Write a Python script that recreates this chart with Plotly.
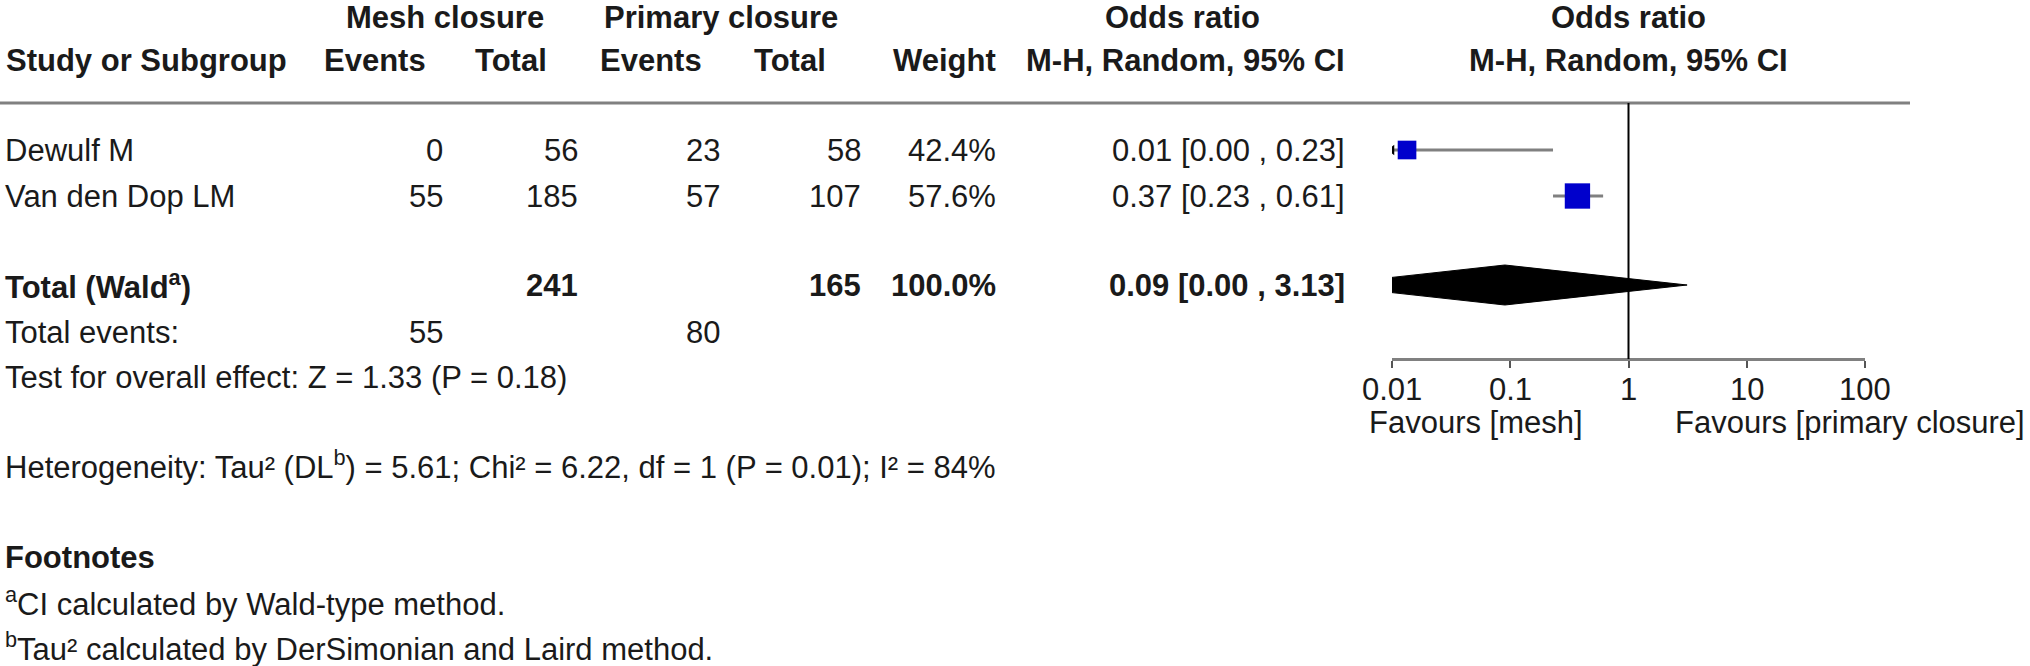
import math
import plotly.graph_objects as go

# ---------------- data ----------------
studies = ["Dewulf M", "Van den Dop LM"]
mesh_events = [0, 55]
mesh_total = [56, 185]
prim_events = [23, 57]
prim_total = [58, 107]
weights = [42.4, 57.6]
or_est = [0.0134, 0.37]
ci_low = [0.0008, 0.23]
ci_high = [0.23, 0.61]

total_or = 0.09
total_low = 0.0026
total_high = 3.13
total_weight = 100.0

tick_vals = [0.01, 0.1, 1, 10, 100]
tick_text = ["0.01", "0.1", "1", "10", "100"]

# ---------------- layout constants ----------------
W, H = 2030, 666
FONT = "Liberation Sans, Arial, Helvetica, sans-serif"
FS = 31
TXT = "#1a1a1a"
AX_LEFT, AX_RIGHT = 1392, 1865
AXIS_Y = 359
LINE_Y = 103
row_y = [150, 196]
total_y = 285
totev_y = 332
test_y = 377
CI_RIGHT = 1346
XMIN, XMAX = tick_vals[0], tick_vals[-1]

fig = go.Figure()
annotations = []


def txt(x, y, s, anchor="left", bold=False, size=FS, color=TXT, xref="paper"):
    if bold:
        s = "<b>" + s + "</b>"
    annotations.append(dict(
        x=(x / W) if xref == "paper" else x, y=y, xref=xref, yref="y", text=s,
        showarrow=False, xanchor=anchor, yanchor="middle",
        font=dict(family=FONT, size=size, color=color), borderpad=0))


# headers
txt(445, 17, "Mesh closure", "center", True)
txt(721, 17, "Primary closure", "center", True)
txt(1182, 17, "Odds ratio", "center", True)
txt(1628, 17, "Odds ratio", "center", True)
txt(5, 60, "Study or Subgroup", "left", True)
txt(427, 60, "Events", "right", True)
txt(548, 60, "Total", "right", True)
txt(703, 60, "Events", "right", True)
txt(827, 60, "Total", "right", True)
txt(997, 60, "Weight", "right", True)
txt(CI_RIGHT, 60, "M-H, Random, 95% CI", "right", True)
txt(1628, 60, "M-H, Random, 95% CI", "center", True)

# study rows
for i, name in enumerate(studies):
    y = row_y[i]
    txt(4, y, name)
    txt(444, y, str(mesh_events[i]), "right")
    txt(579, y, str(mesh_total[i]), "right")
    txt(721, y, str(prim_events[i]), "right")
    txt(862, y, str(prim_total[i]), "right")
    txt(997, y, f"{weights[i]:.1f}%", "right")
    txt(CI_RIGHT, y, f"{or_est[i]:.2f} [{ci_low[i]:.2f} , {ci_high[i]:.2f}]", "right")

# total rows
txt(4, total_y, "Total (Wald<sup>a</sup>)", "left", True)
txt(579, total_y, str(sum(mesh_total)), "right", True)
txt(862, total_y, str(sum(prim_total)), "right", True)
txt(997, total_y, f"{total_weight:.1f}%", "right", True)
txt(CI_RIGHT, total_y, f"{total_or:.2f} [{total_low:.2f} , {total_high:.2f}]", "right", True)
txt(4, totev_y, "Total events:")
txt(444, totev_y, str(sum(mesh_events)), "right")
txt(721, totev_y, str(sum(prim_events)), "right")
txt(4, test_y, "Test for overall effect: Z = 1.33 (P = 0.18)")
txt(4, 465, "Heterogeneity: Tau² (DL<sup>b</sup>) = 5.61; Chi² = 6.22, df = 1 (P = 0.01); I² = 84%")
txt(4, 557, "Footnotes", "left", True)
txt(4, 602, "<sup>a</sup>CI calculated by Wald-type method.")
txt(4, 647, "<sup>b</sup>Tau² calculated by DerSimonian and Laird method.")

# axis tick labels (placed on the log axis)
for v, t in zip(tick_vals, tick_text):
    txt(math.log10(v), 389, t, "center", xref="x")

# favours labels
txt(1368, 422, "Favours [mesh]", "left")
txt(1674, 422, "Favours [primary closure]", "left")

# ---------------- forest marks ----------------
for i in range(len(studies)):
    lo = max(ci_low[i], XMIN)
    hi = min(ci_high[i], XMAX)
    fig.add_trace(go.Scatter(x=[lo, hi], y=[row_y[i], row_y[i]], mode="lines",
                             line=dict(color="#808080", width=3), hoverinfo="skip",
                             showlegend=False))
    if ci_low[i] < XMIN:
        fig.add_trace(go.Scatter(x=[XMIN], y=[row_y[i]], mode="markers",
                                 marker=dict(symbol="triangle-left", size=9, color="black"),
                                 hoverinfo="skip", showlegend=False))

fig.add_trace(go.Scatter(x=or_est, y=row_y, mode="markers",
                         marker=dict(symbol="square", size=[w * 0.44 for w in weights],
                                     color="#0000CC", opacity=1, line=dict(width=0)),
                         hoverinfo="skip", showlegend=False))

# diamond (clipped at axis minimum)
h = 20
lo_l, est_l = math.log10(total_low), math.log10(total_or)
left = max(total_low, XMIN)
frac = (math.log10(left) - lo_l) / (est_l - lo_l)
dx = [left, total_or, total_high, total_or, left, left]
dy = [total_y - frac * h, total_y - h, total_y, total_y + h, total_y + frac * h, total_y - frac * h]
fig.add_trace(go.Scatter(x=dx, y=dy, mode="lines", fill="toself", fillcolor="black",
                         line=dict(color="black", width=1), hoverinfo="skip", showlegend=False))

# ---------------- shapes ----------------
shapes = [
    dict(type="line", xref="paper", yref="y", x0=0, x1=1910 / W, y0=LINE_Y, y1=LINE_Y,
         line=dict(color="#808080", width=3)),
    dict(type="line", xref="x", yref="y", x0=1, x1=1, y0=LINE_Y, y1=AXIS_Y,
         line=dict(color="black", width=2)),
]

axis_common = dict(type="log", range=[math.log10(XMIN), math.log10(XMAX)],
                   domain=[AX_LEFT / W, AX_RIGHT / W], anchor="free",
                   position=1 - AXIS_Y / H, showgrid=False, zeroline=False,
                   tickvals=tick_vals, ticklen=7, tickwidth=2, tickcolor="#555555",
                   showticklabels=False, automargin=False)

fig.update_layout(
    width=W, height=H,
    margin=dict(l=0, r=0, t=0, b=0, pad=0, autoexpand=False),
    paper_bgcolor="white", plot_bgcolor="rgba(0,0,0,0)",
    xaxis=dict(**axis_common, ticks="outside", showline=True,
               linecolor="#808080", linewidth=3),
    xaxis2=dict(**axis_common, overlaying="x", ticks="inside", showline=False),
    yaxis=dict(range=[H, 0], domain=[0, 1], visible=False, automargin=False),
    annotations=annotations, shapes=shapes,
)

fig.write_html("out.html", config={"displayModeBar": False},
               post_script="document.body.style.margin='0';")
